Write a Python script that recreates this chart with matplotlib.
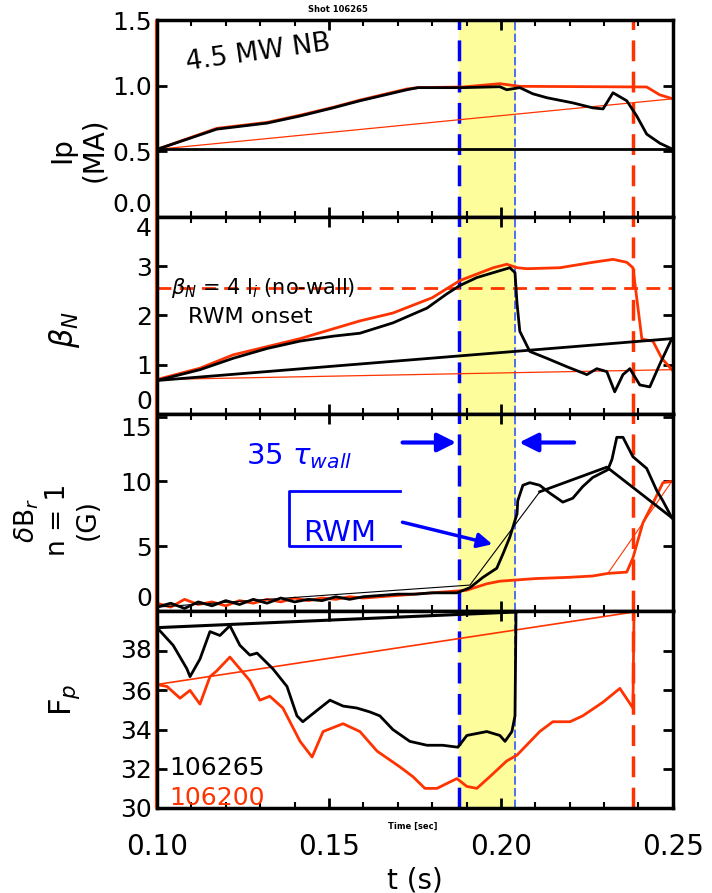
import matplotlib.pyplot as plt
from matplotlib.lines import Line2D

# time markers (s)
t_rwm_start = 0.1878
t_rwm_end = 0.2041
t_collapse = 0.2384

# panel 1 : plasma current
t_ip_black = [0.1000, 0.1174, 0.1320, 0.1416, 0.1512, 0.1590, 0.1727, 0.1759, 0.1890, 0.1997, 0.2017,
              0.2055, 0.2093, 0.2134, 0.2209, 0.2267, 0.2297, 0.2326, 0.2366, 0.2395, 0.2424, 0.2462, 0.2500]
ip_black = [0.515, 0.669, 0.715, 0.769, 0.831, 0.885, 0.969, 0.985, 0.985, 0.992, 0.969,
            0.985, 0.938, 0.908, 0.869, 0.831, 0.823, 0.946, 0.885, 0.769, 0.631, 0.562, 0.515]
t_ip_red = [0.1000, 0.1174, 0.1320, 0.1416, 0.1512, 0.1590, 0.1727, 0.1759, 0.1890, 0.1997, 0.2055,
            0.2424, 0.2462, 0.2500]
ip_red = [0.515, 0.675, 0.720, 0.775, 0.835, 0.890, 0.975, 0.985, 0.990, 1.015, 0.995,
          0.990, 0.930, 0.900]

# panel 2 : beta_N
t_bn_black = [0.1000, 0.1125, 0.1221, 0.1320, 0.1416, 0.1512, 0.1590, 0.1686, 0.1785, 0.1843, 0.1881,
              0.1930, 0.1997, 0.2026, 0.2041, 0.2047, 0.2055, 0.2084, 0.2134, 0.2192, 0.2250, 0.2279,
              0.2308, 0.2331, 0.2355, 0.2375, 0.2404, 0.2433, 0.2462, 0.2497]
bn_black = [0.68, 0.90, 1.13, 1.33, 1.48, 1.58, 1.64, 1.85, 2.15, 2.44, 2.61,
            2.77, 2.91, 2.97, 2.87, 2.24, 1.68, 1.27, 1.13, 0.96, 0.80, 0.92,
            0.86, 0.45, 0.80, 0.92, 0.59, 0.55, 1.01, 1.53]
t_bn_red = [0.1000, 0.1125, 0.1221, 0.1416, 0.1590, 0.1686, 0.1800, 0.1881, 0.1978, 0.2017, 0.2047,
            0.2076, 0.2172, 0.2267, 0.2326, 0.2366, 0.2384, 0.2410, 0.2442, 0.2468, 0.2497]
bn_red = [0.70, 0.93, 1.20, 1.53, 1.89, 2.05, 2.36, 2.71, 2.97, 3.04, 2.97,
          2.95, 2.97, 3.08, 3.14, 3.08, 2.97, 1.52, 1.48, 1.13, 0.90]
bn_limit = 2.56

# panel 3 : n=1 radial field
t_br_black = [0.100, 0.104, 0.108, 0.112, 0.116, 0.120, 0.124, 0.128, 0.132, 0.136, 0.140, 0.144,
              0.148, 0.152, 0.156, 0.160, 0.165, 0.170, 0.175, 0.180, 0.1872, 0.1910, 0.1948,
              0.1988, 0.2006, 0.2026, 0.2047, 0.2049, 0.2064, 0.2084, 0.2113, 0.2142, 0.2180,
              0.2209, 0.2238, 0.2267, 0.2311, 0.2323, 0.2337, 0.2355, 0.2384, 0.2424, 0.2453,
              0.2471, 0.2497]
br_black = [0.3, 0.6, 0.2, 0.7, 0.4, 0.8, 0.5, 0.9, 0.6, 1.0, 0.7, 0.9,
            0.8, 1.1, 0.9, 1.1, 1.2, 1.3, 1.3, 1.4, 1.4, 1.8, 2.6,
            3.3, 4.4, 5.7, 7.5, 8.5, 9.7, 9.9, 9.7, 9.1, 8.4,
            8.7, 9.6, 10.3, 10.9, 11.7, 13.4, 13.4, 11.9, 11.0, 9.3,
            8.5, 7.2]
t_br_fit = [0.1000, 0.1910, 0.2113, 0.2308, 0.2497]
br_fit = [0.3, 2.0, 9.2, 11.1, 7.2]
t_br_red = [0.100, 0.104, 0.108, 0.112, 0.116, 0.120, 0.124, 0.128, 0.132, 0.136, 0.140, 0.144,
            0.148, 0.152, 0.156, 0.160, 0.165, 0.170, 0.175, 0.180, 0.190, 0.1959, 0.1997,
            0.2100, 0.2200, 0.2267, 0.2311, 0.2366, 0.2384, 0.2413, 0.2442, 0.2471, 0.2497]
br_red = [0.6, 0.3, 0.9, 0.5, 0.7, 0.4, 0.8, 0.6, 0.9, 0.7, 1.0, 0.8,
          1.0, 0.9, 1.1, 1.0, 1.1, 1.2, 1.3, 1.4, 1.6, 2.1, 2.3,
          2.5, 2.6, 2.7, 2.9, 3.0, 4.1, 6.8, 8.3, 9.9, 10.0]

# panel 4 : rotation frequency
t_fp_black = [0.1000, 0.1047, 0.1087, 0.1096, 0.1125, 0.1154, 0.1183, 0.1212, 0.1241, 0.1270, 0.1291,
              0.1337, 0.1378, 0.1407, 0.1424, 0.1474, 0.1503, 0.1541, 0.1581, 0.1619, 0.1648, 0.1686,
              0.1735, 0.1785, 0.1831, 0.1875, 0.1901, 0.1959, 0.1997, 0.2012, 0.2032, 0.2041, 0.2044]
fp_black = [39.2, 38.3, 37.1, 36.7, 37.6, 39.0, 38.8, 39.3, 38.3, 37.8, 37.9,
            37.1, 36.2, 34.7, 34.4, 35.1, 35.5, 35.2, 35.1, 34.9, 34.7, 34.0,
            33.4, 33.2, 33.2, 33.1, 33.7, 33.9, 33.7, 33.4, 33.9, 34.7, 40.0]
t_fp_red = [0.1000, 0.1029, 0.1067, 0.1096, 0.1125, 0.1154, 0.1174, 0.1212, 0.1270, 0.1299, 0.1328,
            0.1366, 0.1416, 0.1451, 0.1483, 0.1541, 0.1590, 0.1640, 0.1706, 0.1744, 0.1779, 0.1814,
            0.1872, 0.1901, 0.1930, 0.1968, 0.2017, 0.2047, 0.2113, 0.2151, 0.2201, 0.2238, 0.2297,
            0.2346, 0.2384, 0.2387]
fp_red = [36.3, 36.2, 35.6, 36.0, 35.3, 36.7, 37.0, 37.7, 36.5, 35.5, 35.7,
          35.1, 33.4, 32.6, 33.9, 34.3, 33.9, 32.9, 32.1, 31.6, 31.0, 31.0,
          31.5, 31.1, 31.0, 31.6, 32.4, 32.7, 33.9, 34.4, 34.4, 34.7, 35.4,
          36.1, 35.1, 40.0]

xticks = [0.10, 0.15, 0.20, 0.25]
xticklabels = ['0.10', '0.15', '0.20', '0.25']

RED = '#ff3300'
BLUE = '#0000ff'

fig = plt.figure(figsize=(7.12, 8.93), dpi=100)
axes = fig.subplots(4, 1, sharex=True)
fig.subplots_adjust(left=0.2205, right=0.945, top=0.9776, bottom=0.0952, hspace=0)

def closure(ax, t, y, color, lw):
    # line back from the last sample to the first one
    ax.plot([t[0], t[-1]], [y[0], y[-1]], color=color, lw=lw)

ax = axes[0]
ax.plot(t_ip_red, ip_red, color=RED, lw=2)
closure(ax, t_ip_red, ip_red, RED, 0.9)
ax.plot(t_ip_black, ip_black, color='black', lw=2)
closure(ax, t_ip_black, ip_black, 'black', 2)
ax.set_ylim(0, 1.5)
ax.set_yticks([0, 0.5, 1.0, 1.5])
ax.set_yticklabels(['0.0', '0.5', '1.0', '1.5'])
ax.text(0.108, 1.12, '4.5 MW NB', fontsize=19, rotation=8)

ax = axes[1]
ax.axhline(bn_limit, color=RED, lw=2, ls=(0, (5, 3)))
ax.plot(t_bn_red, bn_red, color=RED, lw=2)
closure(ax, t_bn_red, bn_red, RED, 0.9)
ax.plot(t_bn_black, bn_black, color='black', lw=2)
closure(ax, t_bn_black, bn_black, 'black', 2)
ax.set_ylim(0, 4)
ax.set_yticks([0, 1, 2, 3, 4])
ax.text(0.104, bn_limit, r'$\beta_N$ = 4 l$_i$ (no-wall)', fontsize=15, va='center')
ax.text(0.109, 1.85, 'RWM onset', fontsize=16)

ax = axes[2]
ax.plot(t_br_red, br_red, color=RED, lw=2)
ax.plot([t_br_red[-7], t_br_red[-1]], [br_red[-7], br_red[-1]], color=RED, lw=0.8)
ax.plot(t_br_fit[:3], br_fit[:3], color='black', lw=0.8)
ax.plot(t_br_fit[2:], br_fit[2:], color='black', lw=2)
ax.plot(t_br_black, br_black, color='black', lw=2)
ax.set_ylim(0, 15.2)
ax.set_yticks([0, 5, 10, 15])
ax.annotate('', xy=(t_rwm_start, 13.0), xytext=(0.1706, 13.0),
            arrowprops=dict(arrowstyle='-|>', color=BLUE, lw=3, mutation_scale=28))
ax.annotate('', xy=(t_rwm_end + 0.0004, 13.0), xytext=(0.2221, 13.0),
            arrowprops=dict(arrowstyle='-|>', color=BLUE, lw=3, mutation_scale=28))
ax.text(0.126, 11.3, r'35 $\tau_{wall}$', fontsize=21, color=BLUE)
ax.plot([0.1706, 0.1384, 0.1384, 0.1706], [9.25, 9.25, 5.05, 5.05], color=BLUE, lw=2)
ax.text(0.1425, 5.4, 'RWM', fontsize=21, color=BLUE)
ax.annotate('', xy=(0.1983, 5.1), xytext=(0.1706, 6.9),
            arrowprops=dict(arrowstyle='-|>', color=BLUE, lw=2.5, mutation_scale=22))

ax = axes[3]
ax.plot(t_fp_red, fp_red, color=RED, lw=2)
closure(ax, t_fp_red, fp_red, RED, 1.2)
ax.plot(t_fp_black, fp_black, color='black', lw=2)
closure(ax, t_fp_black, fp_black, 'black', 2.2)
ax.set_ylim(30, 40.05)
ax.set_yticks([30, 32, 34, 36, 38])
ax.text(0.1035, 31.7, '106265', fontsize=18, color='black')
ax.text(0.1035, 30.15, '106200', fontsize=18, color=RED)

for i, ax in enumerate(axes):
    ax.axvspan(t_rwm_start, t_rwm_end, color='#fdfd9c', zorder=0)
    ax.axvline(t_rwm_start, color=BLUE, lw=2.5, ls=(0, (6, 3)), zorder=1)
    ax.axvline(t_rwm_end, color='#3355ff', lw=1.2, ls=(0, (5, 2)), zorder=1)
    ax.axvline(t_collapse, color=RED, lw=2.5, ls=(0, (6, 3)), zorder=1)
    for s in ax.spines.values():
        s.set_linewidth(2.5)
    ax.tick_params(axis='both', direction='in', top=True, right=True, length=7, width=2,
                   labelsize=18)
    ax.tick_params(axis='x', which='minor', direction='in', top=True, length=4, width=1.5)
    ax.set_xlim(0.10, 0.25)
    # keep the labels at the panel joins apart
    labels = ax.get_yticklabels()
    if i < 3:
        labels[0].set_va('bottom')
    if i > 0:
        labels[-1].set_va('top' if i < 3 else 'center')

axes[-1].set_xticks(xticks)
axes[-1].set_xticklabels(xticklabels)
axes[-1].set_xticks([0.11, 0.12, 0.13, 0.14, 0.16, 0.17, 0.18, 0.19,
                     0.21, 0.22, 0.23, 0.24], minor=True)
axes[-1].tick_params(axis='x', labelsize=20, pad=18)
axes[-1].set_xlabel('t (s)', fontsize=20, labelpad=4)

fig.text(0.11, 1 - 150 / 893, 'Ip\n(MA)', fontsize=20, rotation=90, ha='center', va='center')
fig.text(0.09, 1 - 330 / 893, r'$\beta_N$', fontsize=22, rotation=90, ha='center', va='center')
fig.text(0.08, 1 - 520 / 893, r'$\delta$B$_r$' + '\nn = 1\n(G)', fontsize=19, rotation=90,
         ha='center', va='center')
fig.text(0.09, 1 - 700 / 893, r'F$_p$', fontsize=22, rotation=90, ha='center', va='center')
fig.text(0.475, 0.989, 'Shot 106265', fontsize=6, fontweight='bold', ha='center', va='center')
fig.text(0.58, 1 - 826 / 893, 'Time [sec]', fontsize=6, fontweight='bold', ha='center', va='center')

fig.add_artist(Line2D([155 / 712, 155 / 712], [0.0952, 0.9776], color=RED, lw=0.8))

fig.savefig('out.png', dpi=100)
